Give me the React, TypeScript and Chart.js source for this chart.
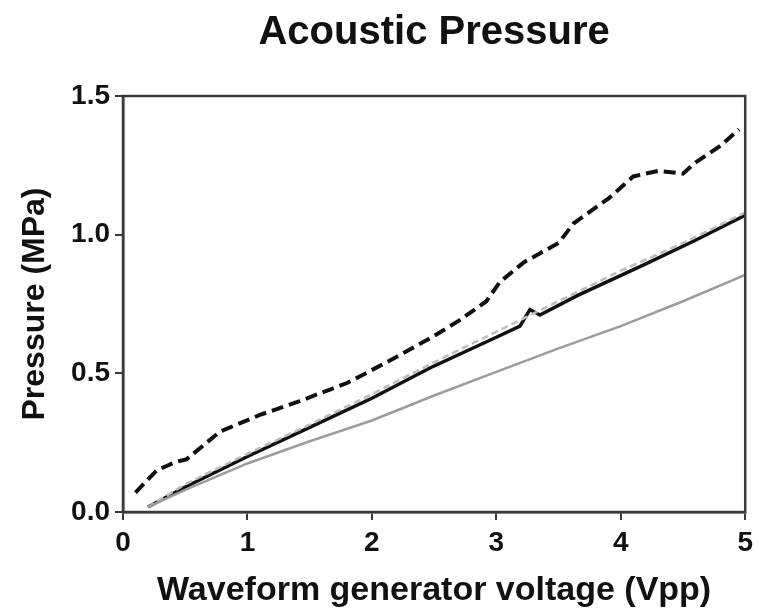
import React, { useEffect, useRef } from "react";
import { Chart, registerables } from "chart.js";

Chart.register(...registerables);

const TITLE = "Acoustic Pressure";
const X_LABEL = "Waveform generator voltage (Vpp)";
const Y_LABEL = "Pressure (MPa)";

// Upper dashed black series
const dashedBlackV = [0.1, 0.27, 0.42, 0.51, 0.78, 1.1, 1.42, 1.8, 2.12, 2.5, 2.7, 2.92, 3.03, 3.22, 3.5, 3.62, 3.9, 4.1, 4.3, 4.5, 4.6, 4.8, 4.95];
const dashedBlackP = [0.07, 0.15, 0.18, 0.19, 0.29, 0.35, 0.40, 0.465, 0.54, 0.635, 0.69, 0.76, 0.83, 0.90, 0.97, 1.04, 1.13, 1.21, 1.23, 1.22, 1.26, 1.32, 1.38];

// Solid black series
const solidBlackV = [0.2, 0.5, 1.0, 1.5, 2.0, 2.47, 3.0, 3.19, 3.27, 3.35, 3.65, 4.18, 4.6, 5.0];
const solidBlackP = [0.018, 0.09, 0.2, 0.305, 0.41, 0.52, 0.63, 0.67, 0.73, 0.71, 0.78, 0.89, 0.98, 1.07];

// Dashed grey series
const dashedGreyV = [0.2, 0.5, 1.0, 1.5, 2.0, 2.5, 3.0, 3.5, 4.0, 4.5, 5.0];
const dashedGreyP = [0.018, 0.10, 0.21, 0.315, 0.425, 0.54, 0.65, 0.76, 0.87, 0.97, 1.08];

// Solid light grey series
const solidGreyV = [0.2, 0.5, 1.0, 1.5, 2.0, 2.5, 3.0, 3.5, 4.0, 4.5, 5.0];
const solidGreyP = [0.018, 0.08, 0.175, 0.255, 0.33, 0.42, 0.505, 0.59, 0.67, 0.76, 0.855];

const toPoints = (xs: number[], ys: number[]) => xs.map((x, i) => ({ x, y: ys[i] }));

const FONT = "'Liberation Sans', Arial, Helvetica, sans-serif";
const AXIS_COLOR = "#3a3a3a";

const framePlugin = {
  id: "frame",
  afterDraw(chart: any) {
    const { ctx, chartArea } = chart;
    ctx.save();
    ctx.strokeStyle = AXIS_COLOR;
    ctx.lineWidth = 2.5;
    ctx.strokeRect(chartArea.left, chartArea.top, chartArea.right - chartArea.left, chartArea.bottom - chartArea.top);
    ctx.restore();
  },
};

export default function App() {
  const canvasRef = useRef<HTMLCanvasElement | null>(null);

  useEffect(() => {
    if (!canvasRef.current) return;
    const chart = new Chart(canvasRef.current, {
      type: "line",
      data: {
        datasets: [
          {
            label: "grey solid",
            data: toPoints(solidGreyV, solidGreyP),
            borderColor: "#9c9c9c",
            borderWidth: 2.5,
            pointRadius: 0,
            tension: 0,
          },
          {
            label: "grey dashed",
            data: toPoints(dashedGreyV, dashedGreyP),
            borderColor: "#bdbdbd",
            borderWidth: 2.5,
            borderDash: [7, 4],
            pointRadius: 0,
            tension: 0,
          },
          {
            label: "black solid",
            data: toPoints(solidBlackV, solidBlackP),
            borderColor: "#111111",
            borderWidth: 3.5,
            pointRadius: 0,
            tension: 0,
          },
          {
            label: "black dashed",
            data: toPoints(dashedBlackV, dashedBlackP),
            borderColor: "#111111",
            borderWidth: 4,
            borderDash: [12, 6],
            pointRadius: 0,
            tension: 0,
          },
        ],
      },
      options: {
        responsive: false,
        animation: false,
        devicePixelRatio: 1,
        layout: { padding: { left: 0, right: 6, top: 0, bottom: 0 } },
        plugins: {
          legend: { display: false },
          tooltip: { enabled: false },
          title: {
            display: true,
            text: TITLE,
            fullSize: false,
            color: "#111",
            font: { family: FONT, size: 40, weight: "bold", lineHeight: 1.2 },
            padding: { top: 9, bottom: 39 },
          },
        },
        scales: {
          x: {
            type: "linear",
            min: 0,
            max: 5,
            ticks: {
              stepSize: 1,
              color: "#111",
              font: { family: FONT, size: 28, weight: "bold" },
              padding: 6,
              maxRotation: 0,
            },
            grid: {
              drawOnChartArea: false,
              drawTicks: true,
              tickLength: 8,
              color: AXIS_COLOR,
              lineWidth: 2,
            },
            border: { display: true, color: AXIS_COLOR, width: 2.5 },
            title: {
              display: true,
              text: X_LABEL,
              color: "#111",
              font: { family: FONT, size: 34, weight: "bold", lineHeight: 1.2 },
              padding: { top: 0, bottom: 5 },
            },
            afterFit: (s: any) => {
              s.height = 104;
            },
          },
          y: {
            type: "linear",
            min: 0,
            max: 1.5,
            ticks: {
              stepSize: 0.5,
              color: "#111",
              font: { family: FONT, size: 28, weight: "bold" },
              padding: 5,
              callback: (v: any) => Number(v).toFixed(1),
            },
            grid: {
              drawOnChartArea: false,
              drawTicks: true,
              tickLength: 8,
              color: AXIS_COLOR,
              lineWidth: 2,
            },
            border: { display: true, color: AXIS_COLOR, width: 2.5 },
            title: {
              display: true,
              text: Y_LABEL,
              color: "#111",
              font: { family: FONT, size: 32, weight: "bold", lineHeight: 1.2 },
              padding: { top: 16, bottom: 0 },
            },
            afterFit: (s: any) => {
              s.width = 123;
            },
          },
        },
      },
      plugins: [framePlugin],
    } as any);
    return () => chart.destroy();
  }, []);

  return (
    <div style={{ position: "absolute", left: 0, top: 0, width: 759, height: 616, background: "#fff" }}>
      <canvas ref={canvasRef} width={759} height={616} />
    </div>
  );
}
